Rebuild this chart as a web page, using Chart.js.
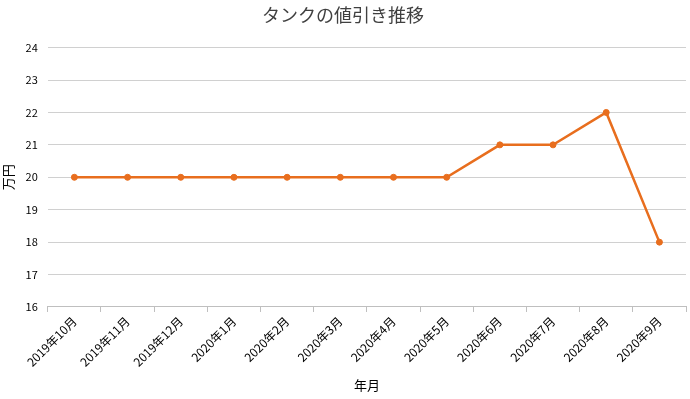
<!DOCTYPE html>
<html lang="ja">
<head>
    <meta charset="UTF-8">
    <title>タンクの値引き推移</title>
    <script src="https://cdn.jsdelivr.net/npm/chart.js"></script>
    <style>
        body { margin: 0; background: #fff; }
        .chart-container { width: 690px; height: 399px; }
    </style>
</head>
<body>
    <div class="chart-container">
        <canvas id="priceChart"></canvas>
    </div>

    <script>
        const labels = ["2019年10月", "2019年11月", "2019年12月", "2020年1月", "2020年2月", "2020年3月", "2020年4月", "2020年5月", "2020年6月", "2020年7月", "2020年8月", "2020年9月"];
        const priceData = [20, 20, 20, 20, 20, 20, 20, 20, 21, 21, 22, 18];

        const fontFamily = "'Noto Sans CJK JP', 'DejaVu Sans', sans-serif";
        const orange = 'rgb(232, 110, 30)';

        const ctx = document.getElementById('priceChart').getContext('2d');
        new Chart(ctx, {
            type: 'line',
            data: {
                labels: labels,
                datasets: [{
                    label: '値引き',
                    data: priceData,
                    borderColor: orange,
                    backgroundColor: orange,
                    borderWidth: 2.5,
                    pointRadius: 3,
                    pointBorderWidth: 1,
                    pointHoverRadius: 3,
                    tension: 0
                }]
            },
            options: {
                responsive: true,
                maintainAspectRatio: false,
                animation: false,
                layout: { padding: { left: 0, right: 4, top: 0, bottom: 6 } },
                plugins: {
                    legend: { display: false },
                    tooltip: { enabled: false },
                    title: {
                        display: true,
                        text: 'タンクの値引き推移',
                        color: '#404040',
                        font: { family: fontFamily, size: 18, weight: 'normal' },
                        padding: { top: 4, bottom: 22 }
                    }
                },
                scales: {
                    x: {
                        offset: true,
                        grid: {
                            offset: true,
                            drawOnChartArea: false,
                            drawTicks: true,
                            tickLength: 5,
                            color: '#bfbfbf'
                        },
                        border: { color: '#bfbfbf' },
                        ticks: {
                            maxRotation: 45,
                            minRotation: 45,
                            color: '#000',
                            padding: 2,
                            font: { family: fontFamily, size: 12 }
                        },
                        title: {
                            display: true,
                            text: '年月',
                            color: '#000',
                            font: { family: fontFamily, size: 13 },
                            padding: { top: 6, bottom: 0 }
                        }
                    },
                    y: {
                        min: 16,
                        max: 24,
                        ticks: {
                            stepSize: 1,
                            color: '#000',
                            padding: 10,
                            font: { family: fontFamily, size: 11 }
                        },
                        grid: {
                            color: '#d0d0d0',
                            drawTicks: false
                        },
                        border: { display: false },
                        title: {
                            display: true,
                            text: '万円',
                            color: '#000',
                            font: { family: fontFamily, size: 13 },
                            padding: { top: 0, bottom: 0 }
                        }
                    }
                }
            }
        });
    </script>
</body>
</html>
